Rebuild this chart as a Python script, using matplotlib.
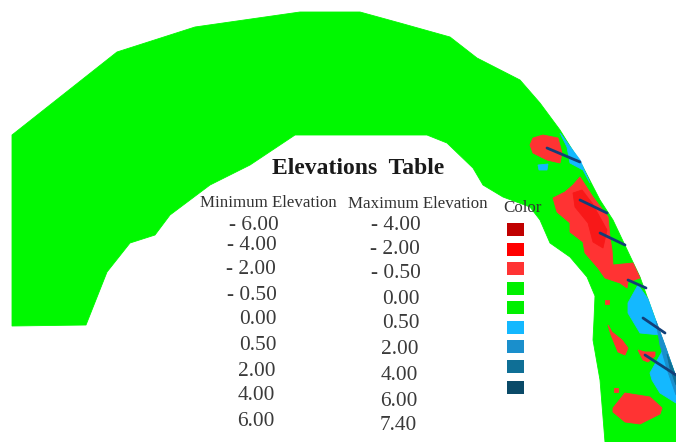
import matplotlib
matplotlib.use("Agg")
import matplotlib.pyplot as plt
from matplotlib.patches import Polygon, Rectangle

# outline of the band, in picture pixels
band_x = [12, 117, 195, 300, 360, 400, 450, 477, 520, 540, 560, 583, 600, 613, 640, 676, 676, 605, 600, 593, 594, 595, 587, 570, 550, 540, 530, 503, 483, 473, 447, 427, 295, 250, 210, 170, 155, 130, 107, 86, 12]
band_y = [135, 52, 27, 12, 12, 23, 37, 58, 80, 103, 130, 167, 200, 220, 277, 377, 442, 442, 380, 340, 320, 296, 277, 257, 243, 220, 207, 197, 185, 168, 143, 135, 135, 165, 185, 215, 235, 243, 272, 325, 326]

red_a_x = [533, 543, 558, 562, 560, 547, 533, 530]
red_a_y = [138, 135, 138, 153, 163, 160, 153, 145]
red_b_x = [580, 593, 608, 610, 612, 613, 633, 640, 628, 627, 620, 605, 598, 585, 583, 570, 570, 557, 553, 565, 573]
red_b_y = [177, 197, 217, 237, 250, 265, 263, 278, 282, 288, 283, 278, 268, 253, 242, 232, 223, 212, 198, 192, 185]
red_dark_x = [573, 582, 592, 607, 603, 593, 588, 575]
red_dark_y = [193, 190, 203, 230, 248, 242, 223, 207]
red_c_x = [608, 612, 622, 628, 625, 618, 611]
red_c_y = [325, 332, 340, 348, 355, 352, 335]
red_d_x = [638, 645, 655, 655, 648, 643]
red_d_y = [350, 352, 352, 356, 362, 360]
red_e_x = [613, 625, 650, 662, 660, 640, 625, 613]
red_e_y = [408, 393, 397, 408, 414, 424, 422, 412]
red_f_x = [605, 609, 609, 605]
red_f_y = [300, 300, 304, 304]
red_g_x = [614, 618, 618, 614]
red_g_y = [388, 388, 392, 392]

cyan_x = [638, 648, 676, 676, 660, 652, 650, 663, 660, 640, 628, 628]
cyan_y = [285, 299, 377, 403, 393, 380, 373, 350, 335, 333, 313, 303]
cyan_edge_x = [560, 580, 590, 583, 570, 567]
cyan_edge_y = [133, 160, 183, 170, 163, 147]
cyan_dot_x = [538, 548, 547, 539]
cyan_dot_y = [165, 164, 170, 170]
blue_x = [656, 666, 676, 676, 668, 660]
blue_y = [321, 348, 377, 395, 372, 345]
blue_dark_x = [667, 672, 676, 676, 670]
blue_dark_y = [354, 366, 377, 385, 368]

needles = [(547, 148, 580, 162), (580, 200, 607, 213), (600, 233, 625, 245),
           (628, 280, 646, 288), (643, 318, 665, 333), (645, 355, 676, 375)]

title = "Elevations  Table"
min_labels = ["- 6.00", "- 4.00", "- 2.00", "- 0.50", "0.00", "0.50", "2.00", "4.00", "6.00"]
max_labels = ["- 4.00", "- 2.00", "- 0.50", "0.00", "0.50", "2.00", "4.00", "6.00", "7.40"]
min_x = [254, 252, 251, 252, 258, 258, 257, 256, 256]
min_y = [226, 246, 270, 295, 320, 346, 371, 396, 422]
max_x = [396, 395, 396, 401, 401, 400, 399, 399, 398]
max_y = [226, 249, 274, 299, 324, 350, 376, 401, 426]
swatch_y = [229, 249, 268, 288, 307, 327, 346, 366, 387]
swatch_colors = ["#C00000", "#FF0000", "#FF3333", "#00F000", "#00F000", "#14B8FF", "#1A8FCC", "#0F6F96", "#0A4A68"]

fig = plt.figure(figsize=(6.76, 4.42), dpi=100)
ax = fig.add_axes([0, 0, 1, 1])
ax.set_xlim(0, 676)
ax.set_ylim(442, 0)
ax.axis("off")
plt.rcParams["font.family"] = ["Liberation Serif", "DejaVu Serif"]


def blob(xs, ys, color, z):
    ax.add_patch(Polygon(list(zip(xs, ys)), closed=True, fc=color, ec=color, lw=0.6, zorder=z))


blob(band_x, band_y, "#00F800", 1)
blob(cyan_edge_x, cyan_edge_y, "#14B8FF", 2)
blob(cyan_dot_x, cyan_dot_y, "#14B8FF", 2)
blob(cyan_x, cyan_y, "#14B8FF", 2)
blob(blue_x, blue_y, "#1A8FCC", 3)
blob(blue_dark_x, blue_dark_y, "#0F6F96", 3)
for xs, ys in [(red_a_x, red_a_y), (red_b_x, red_b_y), (red_c_x, red_c_y), (red_d_x, red_d_y),
               (red_e_x, red_e_y), (red_f_x, red_f_y), (red_g_x, red_g_y)]:
    blob(xs, ys, "#FF3333", 4)
blob(red_dark_x, red_dark_y, "#F81818", 5)

for x0, y0, x1, y1 in needles:
    ax.plot([x0, x1], [y0, y1], color="#123F78", lw=2, solid_capstyle="round", zorder=6)

ax.text(358, 168, title, fontsize=17, fontweight="bold", color="#1a1a1a", ha="center", va="center")
ax.text(268, 203, "Minimum Elevation", fontsize=12.2, color="#333333", ha="center", va="center")
ax.text(418, 204, "Maximum Elevation", fontsize=12.2, color="#333333", ha="center", va="center")
ax.text(522, 208, "Color", fontsize=12.2, color="#333333", ha="center", va="center", zorder=7)

for s, x, y in zip(min_labels, min_x, min_y):
    ax.text(x, y, s, fontsize=15.4, color="#3a3a3a", ha="center", va="center")
for s, x, y in zip(max_labels, max_x, max_y):
    ax.text(x, y, s, fontsize=15.4, color="#3a3a3a", ha="center", va="center")

for y, c in zip(swatch_y, swatch_colors):
    ax.add_patch(Rectangle((507, y - 6.5), 17, 13, fc=c, ec="none", zorder=7))

fig.savefig("out.png", dpi=100)
